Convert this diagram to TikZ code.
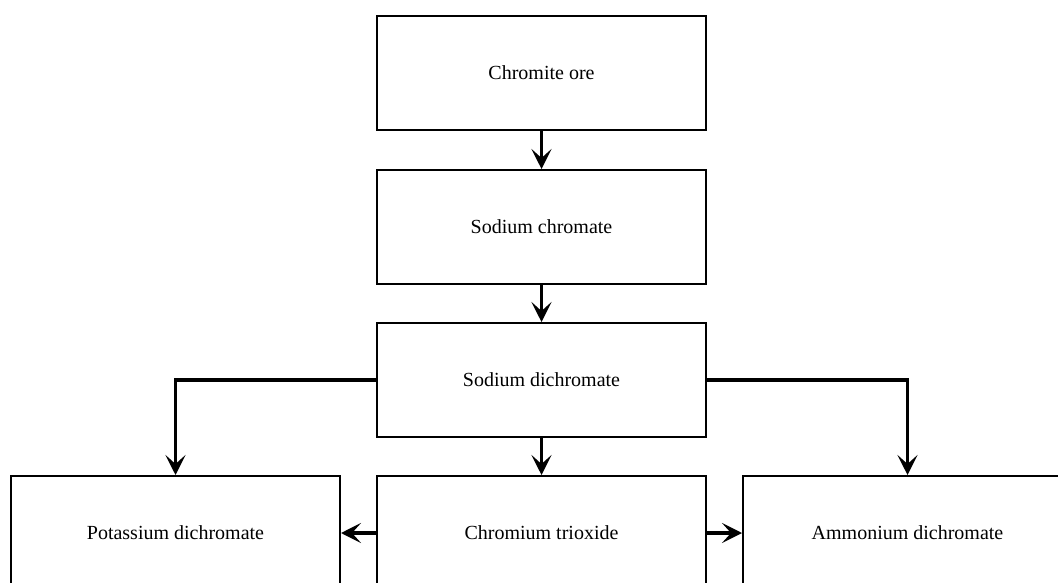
\documentclass[tikz,border=0pt]{standalone}
\usepackage{fontspec}
\setmainfont{Liberation Serif}
\usetikzlibrary{arrows.meta}
\begin{document}
\begin{tikzpicture}[x=1pt,y=-1pt,
  stagebox/.style={draw=black,line width=2pt,minimum width=329pt,minimum height=114pt,
    inner sep=0pt,font=\fontsize{20}{24}\selectfont},
  flow/.style={line width=3.5pt,-{Stealth[length=20pt,width=20pt,inset=9pt]}}]
\useasboundingbox (0,0) rectangle (1058,583);
\clip (0,0) rectangle (1058,583);
\fill[white] (0,0) rectangle (1058,583);
\node[stagebox] (ore) at (541.5,73) {Chromite ore};
\node[stagebox] (sc) at (541.5,227) {Sodium chromate};
\node[stagebox] (sd) at (541.5,380) {Sodium dichromate};
\node[stagebox] (kd) at (175.5,533) {Potassium dichromate};
\node[stagebox] (ct) at (541.5,533) {Chromium trioxide};
\node[stagebox] (ad) at (907.5,533) {Ammonium dichromate};
\draw[flow] (ore) -- (sc);
\draw[flow] (sc) -- (sd);
\draw[flow] (sd) -- (ct);
\draw[flow] (sd.west) -| (kd.north);
\draw[flow] (sd.east) -| (ad.north);
\draw[flow] (ct.west) -- (kd.east);
\draw[flow] (ct.east) -- (ad.west);
\end{tikzpicture}
\end{document}
